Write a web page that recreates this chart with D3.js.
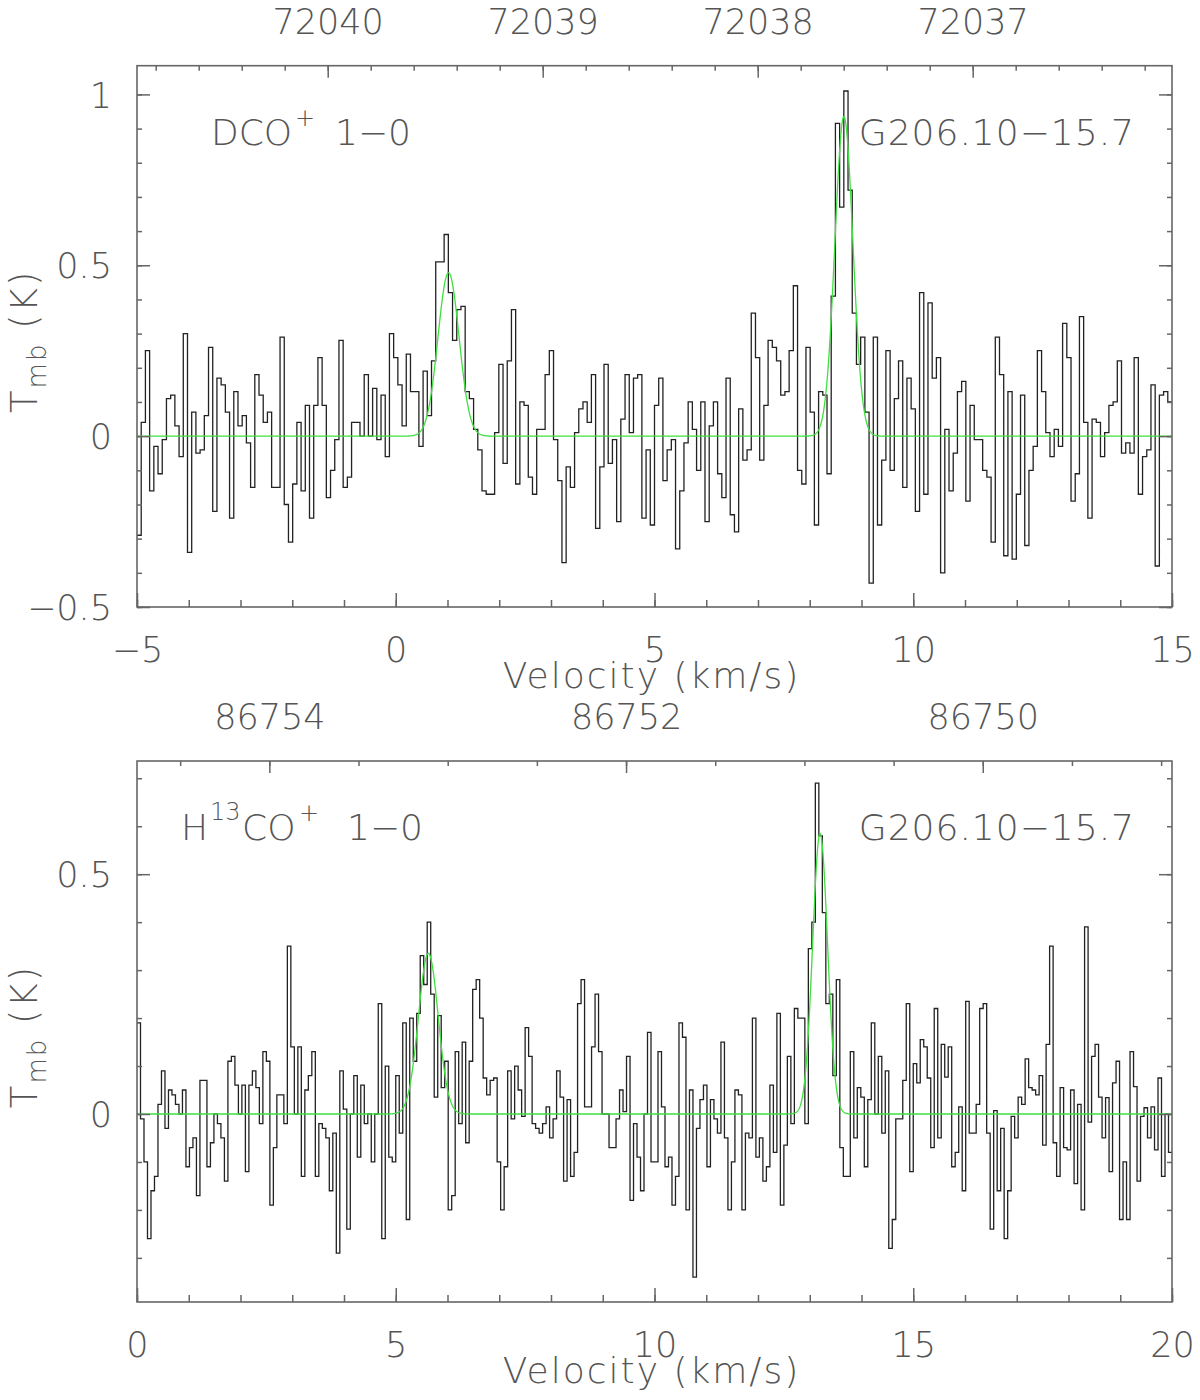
<!DOCTYPE html>
<html>
<head>
<meta charset="utf-8">
<script src="https://cdn.jsdelivr.net/npm/d3@7"></script>
<style>
	body { margin: 0; background: #fff; }
	svg text { font-family: "DejaVu Sans", sans-serif; font-weight: 200; fill: #555; }
</style>
</head>
<body>
<svg id="chart" width="1200" height="1400"></svg>
<script>
// DCO+ 1-0 spectrum, one value per channel (K), channels from -5 km/s
const dcoValues = [
	-0.29, 0.04, 0.25, -0.16, -0.03, -0.11, -0.01, 0.11, 0.12, 0.03,
	-0.06, 0.30, -0.34, 0.07, -0.05, -0.04, 0.06, 0.26, -0.22, 0.17,
	0.15, 0.07, -0.24, 0.13, 0.03, 0.06, -0.02, -0.15, 0.18, 0.12,
	0.04, 0.07, -0.15, -0.15, 0.29, -0.20, -0.31, -0.14, 0.04, -0.16,
	0.09, -0.24, 0.09, 0.23, 0.09, -0.18, -0.10, -0.01, 0.28, -0.15,
	-0.12, 0.04, 0.04, 0.00, 0.18, 0.00, 0.14, -0.01, 0.12, -0.06,
	0.30, 0.23, 0.15, 0.03, 0.24, 0.13, 0.13, -0.03, 0.19, 0.06,
	0.22, 0.51, 0.51, 0.59, 0.42, 0.28, 0.37, 0.38, 0.13, 0.11,
	0.02, -0.04, -0.16, -0.17, -0.17, 0.01, 0.21, -0.08, 0.22, 0.37,
	-0.14, 0.10, 0.09, -0.12, -0.17, 0.02, 0.02, 0.18, 0.25, -0.01,
	-0.13, -0.37, -0.09, -0.15, 0.01, 0.08, 0.10, 0.04, 0.18, -0.27,
	-0.09, 0.21, -0.08, -0.01, -0.25, 0.05, 0.18, 0.01, 0.17, 0.18,
	-0.24, -0.04, -0.26, 0.09, 0.17, -0.13, -0.04, -0.01, -0.33, -0.16,
	-0.02, 0.10, 0.02, -0.10, 0.10, -0.25, 0.03, 0.10, -0.11, -0.18,
	0.17, -0.23, -0.28, 0.08, -0.07, -0.04, 0.36, 0.23, -0.07, 0.09,
	0.28, 0.26, 0.22, 0.12, 0.13, 0.25, 0.44, -0.10, -0.14, 0.26,
	0.07, -0.26, 0.13, 0.12, -0.11, 0.41, 0.915, 0.67, 1.01, 0.72,
	0.36, 0.21, 0.29, 0.07, -0.43, 0.29, -0.26, -0.07, 0.25, -0.10,
	0.11, 0.22, -0.15, 0.17, 0.08, -0.22, 0.42, -0.17, 0.39, 0.17,
	0.23, -0.40, 0.02, -0.16, -0.05, 0.13, 0.16, -0.19, 0.09, -0.01,
	-0.01, -0.10, -0.12, -0.31, 0.29, 0.18, -0.35, 0.13, -0.36, -0.17,
	0.12, -0.32, -0.10, -0.03, 0.25, 0.13, 0.01, -0.06, 0.02, -0.03,
	0.33, 0.23, -0.19, -0.11, 0.35, 0.04, -0.24, 0.05, 0.04, -0.06,
	0.01, 0.09, 0.10, 0.22, -0.05, -0.02, -0.05, 0.23, -0.17, -0.06,
	-0.04, 0.15, -0.38, 0.12, 0.13, 0.10
]

// H13CO+ 1-0 spectrum, channels from 0 km/s
const h13coValues = [
	0.19, -0.01, -0.10, -0.26, -0.16, -0.13, 0.02, 0.09, -0.03, 0.05,
	0.04, 0.02, 0.00, 0.05, -0.11, -0.07, -0.05, -0.17, 0.07, 0.07,
	-0.11, -0.06, 0.00, -0.02, -0.05, -0.14, 0.11, 0.12, 0.06, 0.00,
	0.06, -0.12, 0.06, 0.09, 0.055, -0.02, 0.13, 0.11, -0.19, -0.07,
	0.04, 0.04, -0.02, 0.35, 0.14, 0.00, 0.14, -0.13, 0.05, 0.08,
	0.13, -0.13, -0.02, -0.03, -0.05, -0.16, -0.04, -0.29, 0.09, 0.01,
	-0.24, 0.00, 0.08, -0.09, 0.06, -0.02, 0.00, -0.10, 0.00, 0.23,
	-0.26, 0.10, -0.09, -0.10, 0.08, -0.04, 0.19, -0.22, 0.20, 0.11,
	0.21, 0.33, 0.27, 0.40, 0.25, 0.035, 0.205, 0.055, 0.11, -0.20,
	-0.17, 0.13, -0.02, 0.15, -0.06, 0.11, 0.26, 0.28, 0.20, 0.075,
	0.04, 0.07, 0.075, -0.10, -0.20, -0.11, 0.09, -0.01, 0.10, 0.05,
	-0.005, 0.18, 0.12, -0.02, -0.03, -0.04, -0.02, 0.015, -0.05, -0.01,
	0.09, 0.035, -0.14, 0.03, -0.13, -0.08, 0.23, 0.28, 0.015, 0.015,
	0.14, 0.25, 0.13, 0.00, 0.00, -0.07, -0.07, -0.01, 0.05, 0.005,
	0.12, -0.18, -0.02, -0.09, -0.16, 0.00, 0.17, -0.10, -0.10, 0.13,
	0.015, -0.11, -0.09, -0.19, -0.13, 0.19, 0.16, -0.20, 0.05, -0.34,
	-0.03, 0.03, 0.06, -0.11, 0.03, -0.01, -0.04, 0.15, -0.05, -0.20,
	-0.10, 0.05, 0.04, -0.20, -0.04, -0.05, 0.20, -0.09, -0.05, -0.14,
	-0.11, 0.06, -0.08, 0.21, -0.19, -0.065, 0.12, -0.02, 0.22, 0.20,
	0.20, -0.02, 0.345, 0.40, 0.69, 0.58, 0.42, 0.23, 0.25, 0.08,
	0.28, -0.07, -0.13, -0.13, 0.13, -0.05, 0.055, 0.035, -0.11, 0.03,
	0.19, 0.00, 0.12, -0.04, 0.09, -0.28, -0.22, -0.01, -0.01, 0.07,
	0.23, -0.12, 0.105, 0.065, 0.155, 0.14, 0.075, -0.07, 0.22, -0.05,
	0.145, 0.077, 0.14, -0.11, -0.08, 0.015, -0.16, 0.235, -0.04, -0.04,
	0.02, 0.22, 0.23, -0.04, -0.24, 0.007, -0.16, -0.03, -0.26, -0.16,
	-0.005, -0.05, 0.035, 0.02, 0.115, 0.055, 0.05, 0.04, 0.08, -0.065,
	0.145, 0.35, -0.06, -0.13, 0.055, -0.07, -0.075, 0.05, -0.145, 0.02,
	-0.20, 0.39, -0.017, 0.12, 0.145, 0.035, -0.05, 0.034, -0.12, 0.065,
	0.11, -0.22, -0.10, -0.22, 0.13, 0.057, -0.14, -0.005, 0.013, -0.05,
	0.015, -0.075, 0.075, -0.13, 0.00, -0.08
]

// gaussian fits (green): centre km/s, peak K, fwhm km/s
const dcoFitCenter = [1.02, 8.66]
const dcoFitPeak = [0.478, 0.935]
const dcoFitFwhm = [0.48, 0.41]
const h13coFitCenter = [5.63, 13.20]
const h13coFitPeak = [0.335, 0.585]
const h13coFitFwhm = [0.45, 0.34]

// axes
const dcoVelRange = [-5, 15]
const dcoTempRange = [-0.5, 1.084]
const dcoFreqRange = [72040.887, 72036.073]
const dcoVelTicks = [-5, 0, 5, 10, 15]
const dcoTempTicks = [-0.5, 0, 0.5, 1]
const dcoFreqTicks = [72040, 72039, 72038, 72037]

const h13coVelRange = [0, 20]
const h13coTempRange = [-0.392, 0.736]
const h13coFreqRange = [86754.742, 86748.939]
const h13coVelTicks = [0, 5, 10, 15, 20]
const h13coTempTicks = [0, 0.5]
const h13coFreqTicks = [86754, 86752, 86750]

const sourceName = "G206.10\u221215.7"

const svg = d3.select("#chart")
const left = 137, right = 1172
const frameColor = "#666"

const panels = [
	{
		values: dcoValues, v0: -5, dv: 20 / dcoValues.length,
		xDomain: dcoVelRange, yDomain: dcoTempRange, fDomain: dcoFreqRange,
		xTicks: dcoVelTicks, yTicks: dcoTempTicks, fTicks: dcoFreqTicks, fMinor: 0.2,
		fit: [dcoFitCenter, dcoFitPeak, dcoFitFwhm],
		top: 65.7, bottom: 607,
		label: [["DCO", 211, 0, 36], ["+", 295, -19, 24], ["1\u22120", 335, 0, 36]]
	},
	{
		values: h13coValues, v0: 0, dv: 20 / h13coValues.length,
		xDomain: h13coVelRange, yDomain: h13coTempRange, fDomain: h13coFreqRange,
		xTicks: h13coVelTicks, yTicks: h13coTempTicks, fTicks: h13coFreqTicks, fMinor: 0.5,
		fit: [h13coFitCenter, h13coFitPeak, h13coFitFwhm],
		top: 761, bottom: 1302,
		label: [["H", 181, 0, 36], ["13", 210, -20, 24], ["CO", 242, 0, 36], ["+", 299, -19, 24], ["1\u22120", 347, 0, 36]]
	}
]

panels.forEach(function(p, idx) {
	const x = d3.scaleLinear().domain(p.xDomain).range([left, right])
	const y = d3.scaleLinear().domain(p.yDomain).range([p.bottom, p.top])
	const f = d3.scaleLinear().domain(p.fDomain).range([left, right])

	const g = svg.append("g")

	g.append("clipPath").attr("id", "clip" + idx)
		.append("rect")
		.attr("x", left).attr("y", p.top)
		.attr("width", right - left).attr("height", p.bottom - p.top)

	// gaussian fit
	const fitPts = d3.range(p.xDomain[0], p.xDomain[1] + 0.001, 0.005).map(function(v) {
		let t = 0
		for (let k = 0; k < p.fit[0].length; k++) {
			const s = p.fit[2][k] / 2.3548
			t += p.fit[1][k] * Math.exp(-0.5 * Math.pow((v - p.fit[0][k]) / s, 2))
		}
		return [v, t]
	})
	const lineFn = d3.line().x(d => x(d[0])).y(d => y(d[1]))

	// histogram spectrum
	const steps = p.values.map((d, i) => [p.v0 + i * p.dv, d])
	steps.push([p.v0 + p.values.length * p.dv, p.values[p.values.length - 1]])

	g.append("path")
		.attr("clip-path", "url(#clip" + idx + ")")
		.attr("d", lineFn.curve(d3.curveStepAfter)(steps))
		.attr("fill", "none")
		.attr("stroke", "#222")
		.attr("stroke-width", 1.3)

	g.append("path")
		.attr("clip-path", "url(#clip" + idx + ")")
		.attr("d", d3.line().x(d => x(d[0])).y(d => y(d[1]))(fitPts))
		.attr("fill", "none")
		.attr("stroke", "#3ee03e")
		.attr("stroke-width", 1.3)

	// frame
	g.append("rect")
		.attr("x", left).attr("y", p.top)
		.attr("width", right - left).attr("height", p.bottom - p.top)
		.attr("fill", "none")
		.attr("stroke", frameColor)
		.attr("stroke-width", 1.6)

	const yMinor = d3.range(Math.ceil(p.yDomain[0] * 10), Math.floor(p.yDomain[1] * 10) + 1).map(k => k / 10)
	const xMinor = d3.range(Math.ceil(p.xDomain[0]), Math.floor(p.xDomain[1]) + 1)
	const fLo = Math.min(p.fDomain[0], p.fDomain[1]), fHi = Math.max(p.fDomain[0], p.fDomain[1])
	const fMinor = d3.range(Math.ceil(fLo / p.fMinor), Math.floor(fHi / p.fMinor) + 1).map(k => k * p.fMinor)

	const tidy = sel => sel.attr("color", frameColor)
		.call(s => s.select(".domain").remove())
		.call(s => s.selectAll(".tick line").attr("stroke-width", 1.5))

	// left
	g.append("g").attr("transform", `translate(${left},0)`)
		.call(d3.axisLeft(y).tickValues(yMinor).tickSize(-5).tickFormat("")).call(tidy)
	g.append("g").attr("transform", `translate(${left},0)`)
		.call(d3.axisLeft(y).tickValues(p.yTicks).tickSize(-13).tickPadding(25).tickFormat(d3.format("")))
		.call(tidy)
		.call(s => s.selectAll("text").attr("font-size", 35).attr("dy", "0.36em"))
	// right
	g.append("g").attr("transform", `translate(${right},0)`)
		.call(d3.axisRight(y).tickValues(yMinor).tickSize(-5).tickFormat("")).call(tidy)
	g.append("g").attr("transform", `translate(${right},0)`)
		.call(d3.axisRight(y).tickValues(p.yTicks).tickSize(-13).tickFormat("")).call(tidy)
	// bottom
	g.append("g").attr("transform", `translate(0,${p.bottom})`)
		.call(d3.axisBottom(x).tickValues(xMinor).tickSize(-7).tickFormat("")).call(tidy)
	g.append("g").attr("transform", `translate(0,${p.bottom})`)
		.call(d3.axisBottom(x).tickValues(p.xTicks).tickSize(-14).tickFormat(d3.format("")))
		.call(tidy)
		.call(s => s.selectAll("text").attr("font-size", 35).attr("y", 55).attr("dy", null))
	// top (frequency)
	g.append("g").attr("transform", `translate(0,${p.top})`)
		.call(d3.axisTop(f).tickValues(fMinor).tickSize(-5).tickFormat("")).call(tidy)
	g.append("g").attr("transform", `translate(0,${p.top})`)
		.call(d3.axisTop(f).tickValues(p.fTicks).tickSize(-12).tickFormat(d3.format("d")))
		.call(tidy)
		.call(s => s.selectAll("text").attr("font-size", 35).attr("y", -32).attr("dy", null))

	// axis titles (the centre tick label sits under the title, as in the original)
	g.append("text")
		.attr("x", (left + right) / 2 - 3).attr("y", p.bottom + 81)
		.attr("text-anchor", "middle")
		.attr("font-size", 36)
		.attr("letter-spacing", 2)
		.text("Velocity (km/s)")

	const yt = g.append("text")
		.attr("transform", `translate(37,${(p.top + p.bottom) / 2 + 5}) rotate(-90)`)
		.attr("text-anchor", "middle")
		.attr("font-size", 37)
		.attr("letter-spacing", 2)
	yt.append("tspan").text("T")
	yt.append("tspan").attr("font-size", 26).attr("dy", 9).text("mb")
	yt.append("tspan").attr("dy", -9).style("white-space", "pre").text(" (K)")

	// line name and source
	const base = p.top + 79
	p.label.forEach(function(l) {
		g.append("text")
			.attr("x", l[1]).attr("y", base + l[2])
			.attr("font-size", l[3])
			.text(l[0])
	})
	g.append("text")
		.attr("x", 1135).attr("y", base)
		.attr("text-anchor", "end")
		.attr("font-size", 36)
		.attr("letter-spacing", 1)
		.text(sourceName)
})
</script>
</body>
</html>
